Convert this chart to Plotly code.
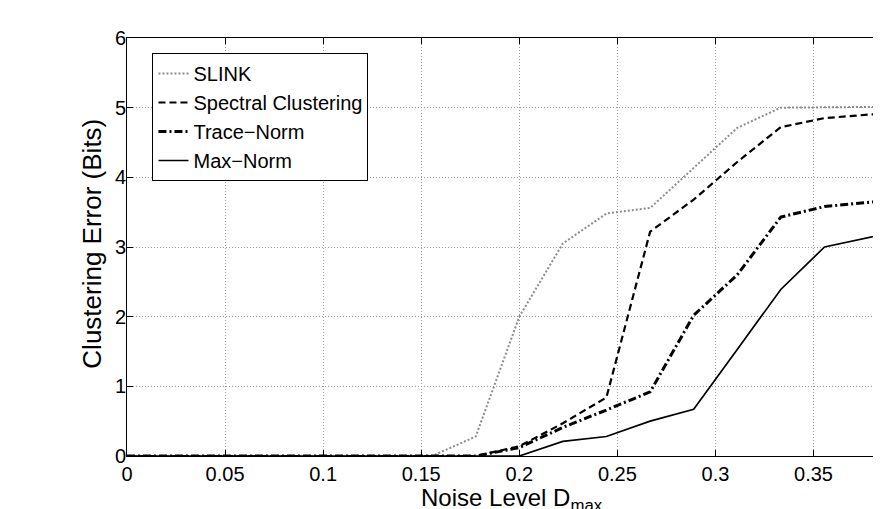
import plotly.graph_objects as go

noise_level = [0, 0.0222, 0.0444, 0.0667, 0.0889, 0.1111, 0.1333, 0.1556, 0.1778,
               0.2, 0.2222, 0.2444, 0.2667, 0.2889, 0.3111, 0.3333, 0.3556, 0.3778, 0.4]

slink = [0, 0, 0, 0, 0, 0, 0, 0, 0.28, 2.0, 3.05, 3.48, 3.56, 4.13, 4.71, 5.0, 5.0, 5.01, 5.02]
spectral = [0, 0, 0, 0, 0, 0, 0, 0, 0, 0.14, 0.47, 0.84, 3.22, 3.68, 4.22, 4.72, 4.85, 4.9, 4.93]
trace_norm = [0, 0, 0, 0, 0, 0, 0, 0, 0, 0.12, 0.41, 0.66, 0.92, 2.02, 2.6, 3.43, 3.58, 3.64, 3.7]
max_norm = [0, 0, 0, 0, 0, 0, 0, 0, 0, 0, 0.21, 0.28, 0.5, 0.67, 1.53, 2.39, 3.0, 3.13, 3.27]

x_ticks = [0, 0.05, 0.1, 0.15, 0.2, 0.25, 0.3, 0.35]
x_tick_labels = ["0", "0.05", "0.1", "0.15", "0.2", "0.25", "0.3", "0.35"]
y_ticks = [0, 1, 2, 3, 4, 5, 6]
y_tick_labels = ["0", "1", "2", "3", "4", "5", "6"]

FONT = "Liberation Sans, Arial, sans-serif"

# The page body has an 8px default margin, so the figure is drawn from (8, 8).
OFF = 8
FIG_W, FIG_H = 881 - OFF, 509 - OFF
PLOT_L, PLOT_T, PLOT_B = 126.5, 38, 455.7  # target pixel positions in the window
plot_w = 881 - PLOT_L
plot_h = PLOT_B - PLOT_T

fig = go.Figure()
fig.add_trace(go.Scatter(x=noise_level, y=slink, mode="lines", name="SLINK",
                         line=dict(color="#8c8c8c", width=2, dash="2px,2px")))
fig.add_trace(go.Scatter(x=noise_level, y=spectral, mode="lines", name="Spectral Clustering",
                         line=dict(color="black", width=2.2, dash="7px,4px")))
fig.add_trace(go.Scatter(x=noise_level, y=trace_norm, mode="lines", name="Trace\u2212Norm",
                         line=dict(color="black", width=3, dash="8px,3px,2px,3px")))
fig.add_trace(go.Scatter(x=noise_level, y=max_norm, mode="lines", name="Max\u2212Norm",
                         line=dict(color="black", width=1.7)))

annotations = [
    dict(text="Noise Level D<sub>max</sub>", x=0.1964, xref="x",
         y=(PLOT_B - 482) / plot_h, yref="paper",
         xanchor="center", yanchor="top", showarrow=False,
         font=dict(family=FONT, size=24, color="black")),
    dict(text="Clustering Error (Bits)", x=(92 - PLOT_L) / plot_w, xref="paper",
         y=(PLOT_B - 244) / plot_h, yref="paper", xanchor="center", yanchor="middle",
         textangle=-90, showarrow=False,
         font=dict(family=FONT, size=26, color="black")),
]
# y tick labels placed right against the axis line, as in the reference
for val, lab in zip(y_ticks, y_tick_labels):
    annotations.append(dict(text=lab, x=0, xref="paper", y=val, yref="y",
                            xanchor="right", yanchor="middle", xshift=1,
                            showarrow=False,
                            font=dict(family=FONT, size=20, color="black")))

fig.update_layout(
    width=FIG_W, height=FIG_H,
    margin=dict(l=PLOT_L - OFF, r=0, t=PLOT_T - OFF, b=509 - PLOT_B),
    paper_bgcolor="white", plot_bgcolor="white",
    font=dict(family=FONT, color="black", size=20),
    showlegend=True,
    legend=dict(x=(152 - PLOT_L) / plot_w, y=(PLOT_B - 53) / plot_h,
                xanchor="left", yanchor="top",
                bgcolor="white", bordercolor="black", borderwidth=1,
                font=dict(family=FONT, size=20, color="black"),
                tracegroupgap=0),
    xaxis=dict(range=[0, 0.3844], tickvals=x_ticks, ticktext=x_tick_labels,
               showline=True, linecolor="black", linewidth=1, mirror="ticks",
               ticks="inside", ticklen=6, tickcolor="black",
               showgrid=True, gridcolor="#9a9a9a", griddash="1px,2px", gridwidth=1,
               zeroline=False, tickfont=dict(size=20)),
    yaxis=dict(range=[0, 6], tickvals=y_ticks, showticklabels=False,
               showline=True, linecolor="black", linewidth=1, mirror=False,
               ticks="inside", ticklen=6, tickcolor="black",
               showgrid=True, gridcolor="#9a9a9a", griddash="1px,2px", gridwidth=1,
               zeroline=False),
    annotations=annotations,
)
fig.update_xaxes(automargin=False)
fig.update_yaxes(automargin=False)

fig.write_html("out.html")
